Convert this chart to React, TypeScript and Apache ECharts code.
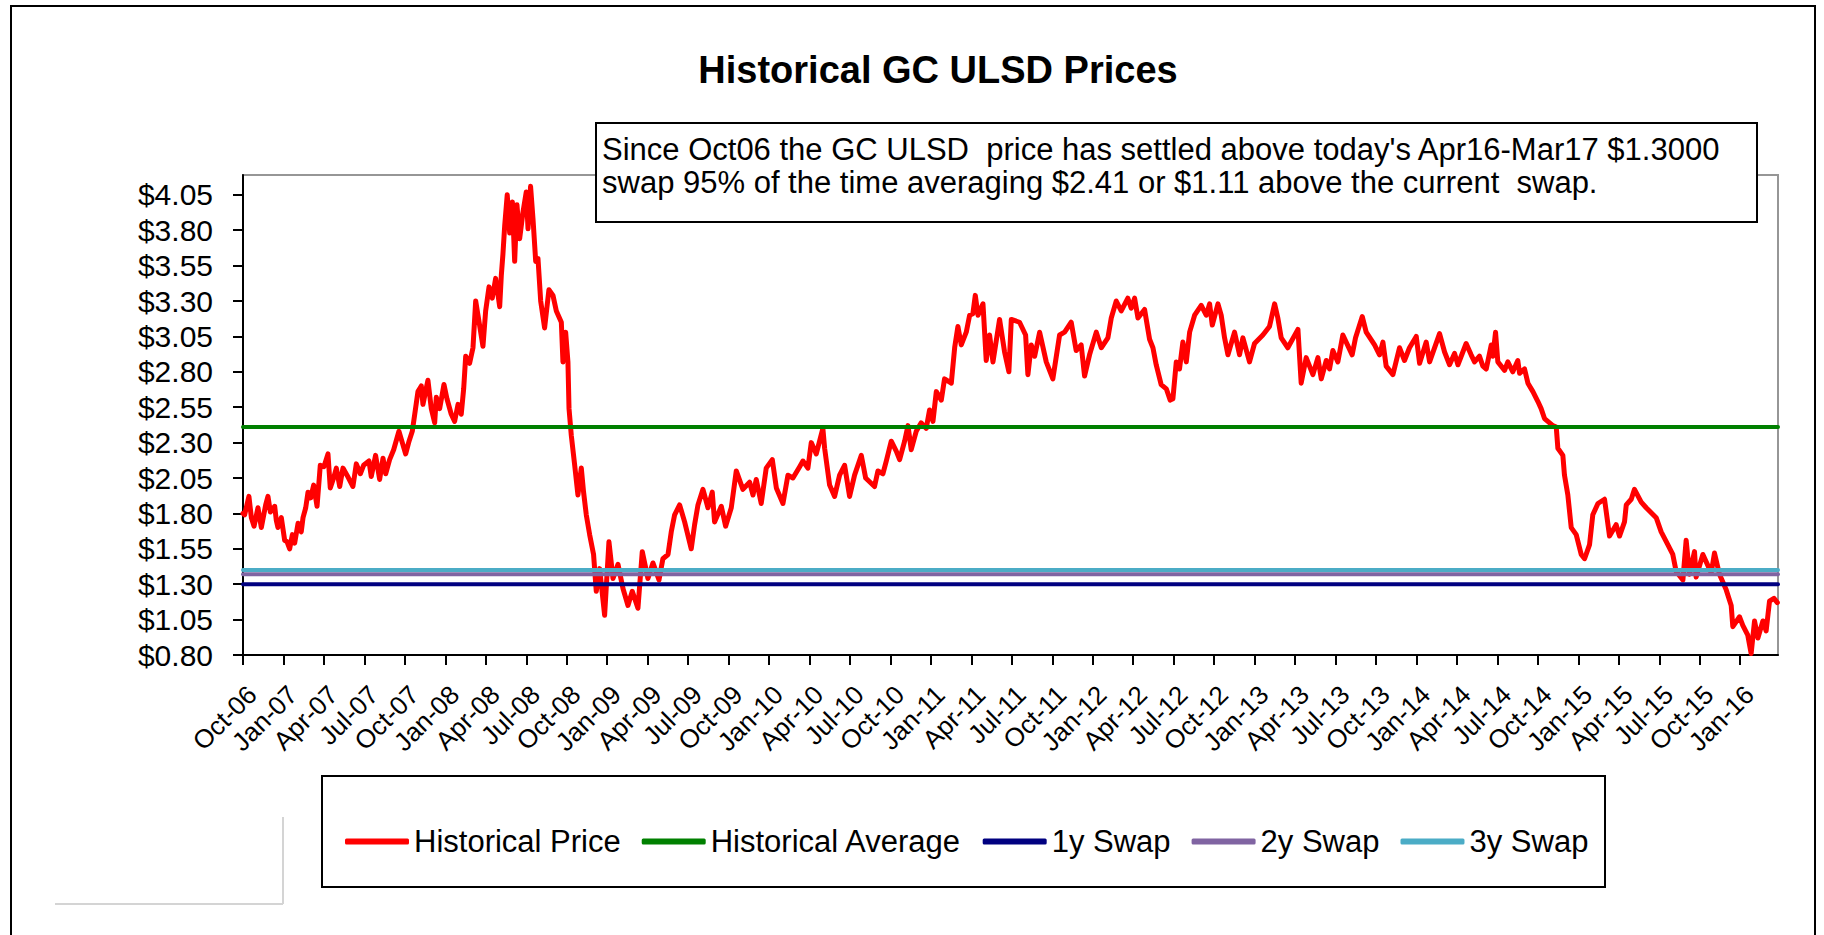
import React, { useEffect, useRef } from "react";
import * as echarts from "echarts";

// Quarterly tick labels on the x axis (months counted from Oct-06)
const quarterLabels = [
  "Oct-06", "Jan-07", "Apr-07", "Jul-07", "Oct-07", "Jan-08", "Apr-08", "Jul-08",
  "Oct-08", "Jan-09", "Apr-09", "Jul-09", "Oct-09", "Jan-10", "Apr-10", "Jul-10",
  "Oct-10", "Jan-11", "Apr-11", "Jul-11", "Oct-11", "Jan-12", "Apr-12", "Jul-12",
  "Oct-12", "Jan-13", "Apr-13", "Jul-13", "Oct-13", "Jan-14", "Apr-14", "Jul-14",
  "Oct-14", "Jan-15", "Apr-15", "Jul-15", "Oct-15", "Jan-16",
];
const monthsPerQuarter = 3;
const xMaxMonths = 113.8; // end of March 2016

const yTicks = [0.8, 1.05, 1.3, 1.55, 1.8, 2.05, 2.3, 2.55, 2.8, 3.05, 3.3, 3.55, 3.8, 4.05];
const yMin = 0.8;
const yMax = 4.19;

// [months since Oct-06, price $/gal]
const historicalPrice: [number, number][] = [
  [0.0, 1.80], [0.12, 1.79], [0.44, 1.92], [0.62, 1.77], [0.82, 1.71], [1.11, 1.84], [1.36, 1.70], [1.68, 1.86],
  [1.85, 1.92], [2.03, 1.81], [2.35, 1.85], [2.47, 1.75], [2.59, 1.70], [2.84, 1.77], [3.09, 1.61], [3.26, 1.60],
  [3.46, 1.55], [3.66, 1.65], [3.83, 1.59], [4.08, 1.73], [4.32, 1.67], [4.45, 1.77], [4.65, 1.84], [4.82, 1.95],
  [5.02, 1.91], [5.24, 2.00], [5.49, 1.85], [5.73, 2.14], [6.00, 2.13], [6.30, 2.22], [6.47, 1.98], [6.72, 2.05],
  [6.92, 2.12], [7.17, 1.99], [7.41, 2.12], [7.71, 2.07], [8.15, 1.99], [8.40, 2.15], [8.70, 2.08], [8.94, 2.14],
  [9.34, 2.17], [9.51, 2.06], [9.83, 2.21], [10.13, 2.04], [10.38, 2.19], [10.58, 2.08], [10.87, 2.18], [11.17, 2.25],
  [11.56, 2.38], [11.81, 2.30], [12.06, 2.22], [12.31, 2.31], [12.55, 2.38], [12.73, 2.50], [12.97, 2.66], [13.22, 2.70],
  [13.34, 2.57], [13.71, 2.74], [13.96, 2.54], [14.21, 2.44], [14.33, 2.62], [14.58, 2.54], [14.90, 2.71], [15.12, 2.61],
  [15.44, 2.50], [15.69, 2.45], [15.94, 2.57], [16.18, 2.50], [16.36, 2.68], [16.51, 2.91], [16.80, 2.86], [17.05, 2.97],
  [17.25, 3.30], [17.42, 3.20], [17.79, 2.98], [17.99, 3.23], [18.24, 3.40], [18.48, 3.32], [18.73, 3.46], [19.03, 3.26],
  [19.15, 3.48], [19.27, 3.63], [19.40, 3.83], [19.59, 4.05], [19.77, 3.78], [19.97, 4.00], [20.14, 3.58], [20.31, 3.98],
  [20.51, 3.74], [20.76, 3.93], [21.00, 4.07], [21.13, 3.81], [21.32, 4.11], [21.50, 3.88], [21.70, 3.58], [21.87, 3.60],
  [22.07, 3.30], [22.36, 3.11], [22.68, 3.38], [22.98, 3.34], [23.23, 3.23], [23.60, 3.15], [23.72, 2.87], [23.92, 3.08],
  [24.09, 2.87], [24.17, 2.54], [24.34, 2.35], [24.59, 2.14], [24.83, 1.93], [25.08, 2.12], [25.25, 1.95], [25.45, 1.79],
  [25.70, 1.65], [25.99, 1.51], [26.19, 1.25], [26.44, 1.41], [26.81, 1.08], [27.13, 1.60], [27.43, 1.34], [27.80, 1.44],
  [28.17, 1.27], [28.54, 1.15], [28.86, 1.25], [29.28, 1.13], [29.60, 1.53], [30.02, 1.34], [30.39, 1.45], [30.84, 1.33],
  [31.13, 1.48], [31.51, 1.51], [31.75, 1.67], [32.00, 1.79], [32.37, 1.86], [32.74, 1.74], [33.23, 1.55], [33.48, 1.72],
  [33.73, 1.86], [34.10, 1.97], [34.47, 1.84], [34.79, 1.95], [34.96, 1.74], [35.46, 1.85], [35.78, 1.71], [36.20, 1.84],
  [36.57, 2.10], [37.06, 1.97], [37.56, 2.02], [37.81, 1.93], [38.05, 2.04], [38.42, 1.87], [38.79, 2.12], [39.24, 2.18],
  [39.54, 1.98], [40.03, 1.87], [40.40, 2.07], [40.77, 2.05], [41.27, 2.13], [41.51, 2.17], [41.88, 2.12], [42.13, 2.30],
  [42.50, 2.22], [42.99, 2.40], [43.12, 2.26], [43.49, 2.00], [43.86, 1.92], [44.23, 2.07], [44.60, 2.14], [44.97, 1.92],
  [45.34, 2.07], [45.84, 2.21], [46.16, 2.05], [46.82, 1.99], [47.07, 2.10], [47.44, 2.08], [47.69, 2.17], [48.06, 2.31],
  [48.43, 2.24], [48.68, 2.18], [49.05, 2.31], [49.30, 2.42], [49.54, 2.25], [49.91, 2.38], [50.28, 2.44], [50.65, 2.40],
  [50.90, 2.53], [51.15, 2.45], [51.40, 2.66], [51.77, 2.60], [52.01, 2.75], [52.51, 2.72], [52.76, 2.97], [53.00, 3.12],
  [53.25, 2.99], [53.62, 3.08], [53.87, 3.20], [54.11, 3.21], [54.29, 3.34], [54.49, 3.20], [54.86, 3.28], [55.10, 2.88],
  [55.35, 3.06], [55.60, 2.87], [56.09, 3.17], [56.46, 2.94], [56.78, 2.80], [56.96, 3.17], [57.57, 3.15], [58.02, 3.06],
  [58.19, 2.78], [58.44, 2.99], [58.69, 2.91], [59.06, 3.08], [59.55, 2.87], [60.04, 2.75], [60.54, 3.06], [60.91, 3.08],
  [61.40, 3.15], [61.77, 2.95], [62.14, 2.99], [62.39, 2.77], [62.76, 2.92], [63.26, 3.08], [63.63, 2.97], [64.12, 3.04],
  [64.37, 3.18], [64.74, 3.30], [65.11, 3.23], [65.60, 3.32], [65.85, 3.25], [66.10, 3.32], [66.35, 3.18], [66.84, 3.24],
  [67.21, 3.03], [67.46, 2.97], [67.70, 2.85], [68.07, 2.71], [68.45, 2.68], [68.74, 2.60], [68.94, 2.61], [69.19, 2.87],
  [69.43, 2.82], [69.68, 3.01], [69.93, 2.87], [70.18, 3.08], [70.55, 3.20], [71.04, 3.27], [71.41, 3.20], [71.66, 3.28],
  [71.86, 3.13], [72.28, 3.28], [72.52, 3.20], [72.77, 3.04], [73.02, 2.92], [73.51, 3.08], [73.88, 2.92], [74.13, 3.04],
  [74.62, 2.87], [74.99, 3.00], [75.61, 3.06], [76.10, 3.12], [76.48, 3.28], [76.72, 3.18], [76.97, 3.04], [77.46, 2.97],
  [78.21, 3.10], [78.45, 2.72], [78.82, 2.90], [79.32, 2.78], [79.69, 2.90], [79.94, 2.75], [80.31, 2.88], [80.55, 2.82],
  [80.80, 2.95], [81.17, 2.87], [81.54, 3.06], [82.23, 2.92], [82.48, 3.04], [82.98, 3.19], [83.27, 3.08], [83.89, 2.99],
  [84.26, 2.92], [84.51, 3.01], [84.75, 2.84], [85.25, 2.78], [85.74, 2.97], [86.11, 2.88], [86.48, 2.97], [86.98, 3.05],
  [87.23, 2.86], [87.72, 3.01], [87.97, 2.87], [88.71, 3.07], [89.08, 2.94], [89.45, 2.85], [89.82, 2.93], [90.07, 2.85],
  [90.68, 3.00], [91.05, 2.92], [91.30, 2.87], [91.67, 2.91], [91.92, 2.84], [92.17, 2.82], [92.54, 2.99], [92.66, 2.91],
  [92.86, 3.08], [93.03, 2.87], [93.53, 2.81], [93.77, 2.87], [94.14, 2.80], [94.51, 2.88], [94.64, 2.79], [95.01, 2.82],
  [95.26, 2.72], [95.63, 2.66], [96.00, 2.59], [96.24, 2.54], [96.49, 2.47], [97.11, 2.42], [97.36, 2.41], [97.48, 2.26],
  [97.85, 2.21], [97.97, 2.07], [98.22, 1.93], [98.47, 1.70], [98.84, 1.65], [99.21, 1.51], [99.46, 1.48], [99.83, 1.58],
  [100.07, 1.79], [100.45, 1.87], [100.94, 1.90], [101.31, 1.64], [101.80, 1.72], [102.05, 1.64], [102.42, 1.74], [102.55, 1.86],
  [102.92, 1.90], [103.16, 1.97], [103.66, 1.88], [104.03, 1.84], [104.77, 1.77], [105.14, 1.67], [105.63, 1.58], [106.00, 1.51],
  [106.25, 1.39], [106.75, 1.33], [106.99, 1.61], [107.24, 1.37], [107.61, 1.53], [107.73, 1.35], [108.23, 1.51], [108.85, 1.38],
  [109.09, 1.52], [109.46, 1.37], [109.96, 1.26], [110.33, 1.15], [110.45, 1.00], [110.95, 1.07], [111.19, 1.01], [111.56, 0.94],
  [111.81, 0.81], [112.06, 1.04], [112.31, 0.92], [112.68, 1.04], [112.92, 0.97], [113.17, 1.18], [113.50, 1.20], [113.75, 1.17],
];

const historicalAverage = 2.41;
const swap1y = 1.30;
const swap2y = 1.37;
const swap3y = 1.40;

const seriesNames = ["Historical Price", "Historical Average", "1y Swap", "2y Swap", "3y Swap"];
const seriesColors = ["#FF0000", "#008000", "#000080", "#8064A2", "#4BACC6"];

const titleText = "Historical GC ULSD Prices";
const noteText =
  "Since Oct06 the GC ULSD  price has settled above today's Apr16-Mar17 $1.3000\nswap 95% of the time averaging $2.41 or $1.11 above the current  swap.";

export default function App() {
  const ref = useRef<HTMLDivElement>(null);

  useEffect(() => {
    if (!ref.current) return;
    const chart = echarts.init(ref.current, null, { renderer: "svg" });
    const font = "'Liberation Sans', Arial, Helvetica, sans-serif";
    const quarterValues = quarterLabels.map((_, i) => i * monthsPerQuarter);
    const flat = (v: number) => [
      [0, v],
      [xMaxMonths, v],
    ];
    const flatValues = [null, historicalAverage, swap1y, swap2y, swap3y];

    const series: any[] = seriesNames.map((name, i) => ({
      name,
      type: "line",
      data: i === 0 ? historicalPrice : flat(flatValues[i] as number),
      symbol: "none",
      showSymbol: false,
      z: i === 0 ? 2 : 3 + i,
      lineStyle: { color: seriesColors[i], width: i === 0 ? 5 : 4, join: "round", cap: "round" },
      itemStyle: { color: seriesColors[i] },
    }));

    chart.setOption({
      animation: false,
      backgroundColor: "#ffffff",
      textStyle: { fontFamily: font },
      grid: {
        left: 243,
        right: 46,
        top: 175,
        bottom: 280,
        show: true,
        borderColor: "#969696",
        borderWidth: 2,
        backgroundColor: "transparent",
      },
      xAxis: {
        type: "value",
        min: 0,
        max: xMaxMonths,
        splitLine: { show: false },
        axisLine: { show: true, onZero: false, lineStyle: { color: "#000", width: 2 } },
        axisTick: {
          show: true,
          length: 10,
          customValues: quarterValues,
          lineStyle: { color: "#000", width: 2 },
        },
        axisLabel: {
          customValues: quarterValues,
          formatter: (v: number) => quarterLabels[Math.round(v / monthsPerQuarter)] ?? "",
          rotate: 45,
          align: "right",
          verticalAlign: "top",
          margin: 26,
          fontSize: 26,
          fontFamily: font,
          color: "#000",
        },
      },
      yAxis: {
        type: "value",
        min: yMin,
        max: yMax,
        splitLine: { show: false },
        axisLine: { show: true, onZero: false, lineStyle: { color: "#000", width: 2 } },
        axisTick: {
          show: true,
          length: 10,
          customValues: yTicks,
          lineStyle: { color: "#000", width: 2 },
        },
        axisLabel: {
          customValues: yTicks,
          formatter: (v: number) => "$" + v.toFixed(2),
          margin: 30,
          fontSize: 30,
          fontFamily: font,
          color: "#000",
        },
      },
      legend: {
        data: seriesNames,
        left: 340,
        top: 821,
        itemWidth: 64,
        itemHeight: 6,
        itemGap: 21,
        icon: "roundRect",
        textStyle: { fontSize: 31, fontFamily: font, color: "#000" },
      },
      graphic: [
        {
          type: "rect",
          z: 0,
          shape: { x: 11, y: 6, width: 1804, height: 945 },
          style: { fill: "none", stroke: "#000", lineWidth: 2 },
        },
        {
          type: "text",
          z: 10,
          x: 938,
          y: 70,
          style: {
            text: titleText,
            font: `bold 38px ${font}`,
            fill: "#000",
            align: "center",
            verticalAlign: "middle",
          },
        },
        {
          type: "rect",
          z: 100,
          shape: { x: 596, y: 123, width: 1161, height: 99 },
          style: { fill: "#fff", stroke: "#000", lineWidth: 2 },
        },
        {
          type: "text",
          z: 101,
          x: 602,
          y: 133,
          style: {
            text: noteText,
            font: `31px ${font}`,
            lineHeight: 33,
            fill: "#000",
            align: "left",
            verticalAlign: "top",
          },
        },
        {
          type: "rect",
          z: 0,
          shape: { x: 322, y: 776, width: 1283, height: 111 },
          style: { fill: "#fff", stroke: "#000", lineWidth: 2 },
        },
        {
          type: "line",
          z: 0,
          shape: { x1: 283, y1: 817, x2: 283, y2: 904 },
          style: { stroke: "#d4d4d4", lineWidth: 2 },
        },
        {
          type: "line",
          z: 0,
          shape: { x1: 55, y1: 904, x2: 283, y2: 904 },
          style: { stroke: "#d4d4d4", lineWidth: 2 },
        },
      ],
      series,
    });

    return () => chart.dispose();
  }, []);

  return (
    <div
      ref={ref}
      style={{ position: "fixed", left: 0, top: 0, width: 1824, height: 935, background: "#fff" }}
    />
  );
}
